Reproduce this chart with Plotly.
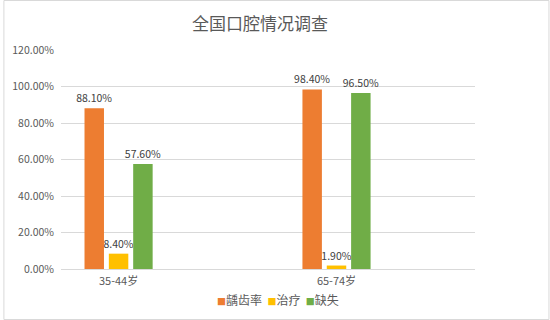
import plotly.graph_objects as go

categories = ["35-44岁", "65-74岁"]
series_names = ["龋齿率", "治疗", "缺失"]
series_values = [
    [0.881, 0.984],
    [0.084, 0.019],
    [0.576, 0.965],
]
colors = ["#ED7D31", "#FFC000", "#70AD47"]
y_ticks = [0, 0.2, 0.4, 0.6, 0.8, 1.0, 1.2]

FONT = "Noto Sans CJK SC, Noto Sans, sans-serif"

fig = go.Figure()
for name, vals, col in zip(series_names, series_values, colors):
    fig.add_trace(go.Bar(
        x=categories, y=vals, name=name,
        marker=dict(color=col, line=dict(width=0)),
        texttemplate="%{y:.2%}", textposition="outside",
        constraintext="none",
        textfont=dict(size=10.5, color="#404040", family=FONT),
        cliponaxis=False,
    ))

L, R, T, B = 58, 75, 50, 51
W, H = 550, 320
pw, ph = W - L - R, H - T - B

legend_text = "&nbsp;&nbsp;".join(
    f"<span style='color:{c};font-size:9px'>■</span>{n}" for n, c in zip(series_names, colors)
)

fig.update_layout(
    width=W, height=H,
    margin=dict(l=L, r=R, t=T, b=B),
    paper_bgcolor="white", plot_bgcolor="white",
    barmode="group", bargap=0.665, bargroupgap=0.2,
    font=dict(family=FONT, color="#595959", size=10.5),
    title=dict(text="全国口腔情况调查", x=260 / W, xref="container", xanchor="center",
               y=1 - 24 / H, yref="container", yanchor="middle",
               font=dict(size=17, color="#595959", family=FONT)),
    showlegend=False,
    annotations=[dict(text=legend_text, showarrow=False, xref="paper", yref="paper",
                      x=(277 - L) / pw, y=(H - B - 299) / ph, xanchor="center", yanchor="middle",
                      font=dict(size=12, color="#595959", family=FONT))],
    xaxis=dict(range=[-0.2642, 1.6355], showgrid=False, showline=False, ticks="",
               ticklabelstandoff=4, tickfont=dict(size=11, color="#595959")),
    yaxis=dict(range=[0, 1.2], tickvals=y_ticks, tickformat=".2%",
               gridcolor="#D9D9D9", gridwidth=1, zeroline=True, zerolinecolor="#D9D9D9",
               zerolinewidth=1, showline=False, ticks="", ticklabelstandoff=6,
               tickfont=dict(size=10.5, color="#595959")),
    shapes=[dict(type="rect", xref="paper", yref="paper",
                 x0=(0.5 - L) / pw, x1=(W - 0.5 - L) / pw,
                 y0=(H - B - (H - 0.5)) / ph, y1=(H - B - 0.5) / ph,
                 line=dict(color="#D9D9D9", width=1), layer="below")],
)

fig.write_html("out.html")
